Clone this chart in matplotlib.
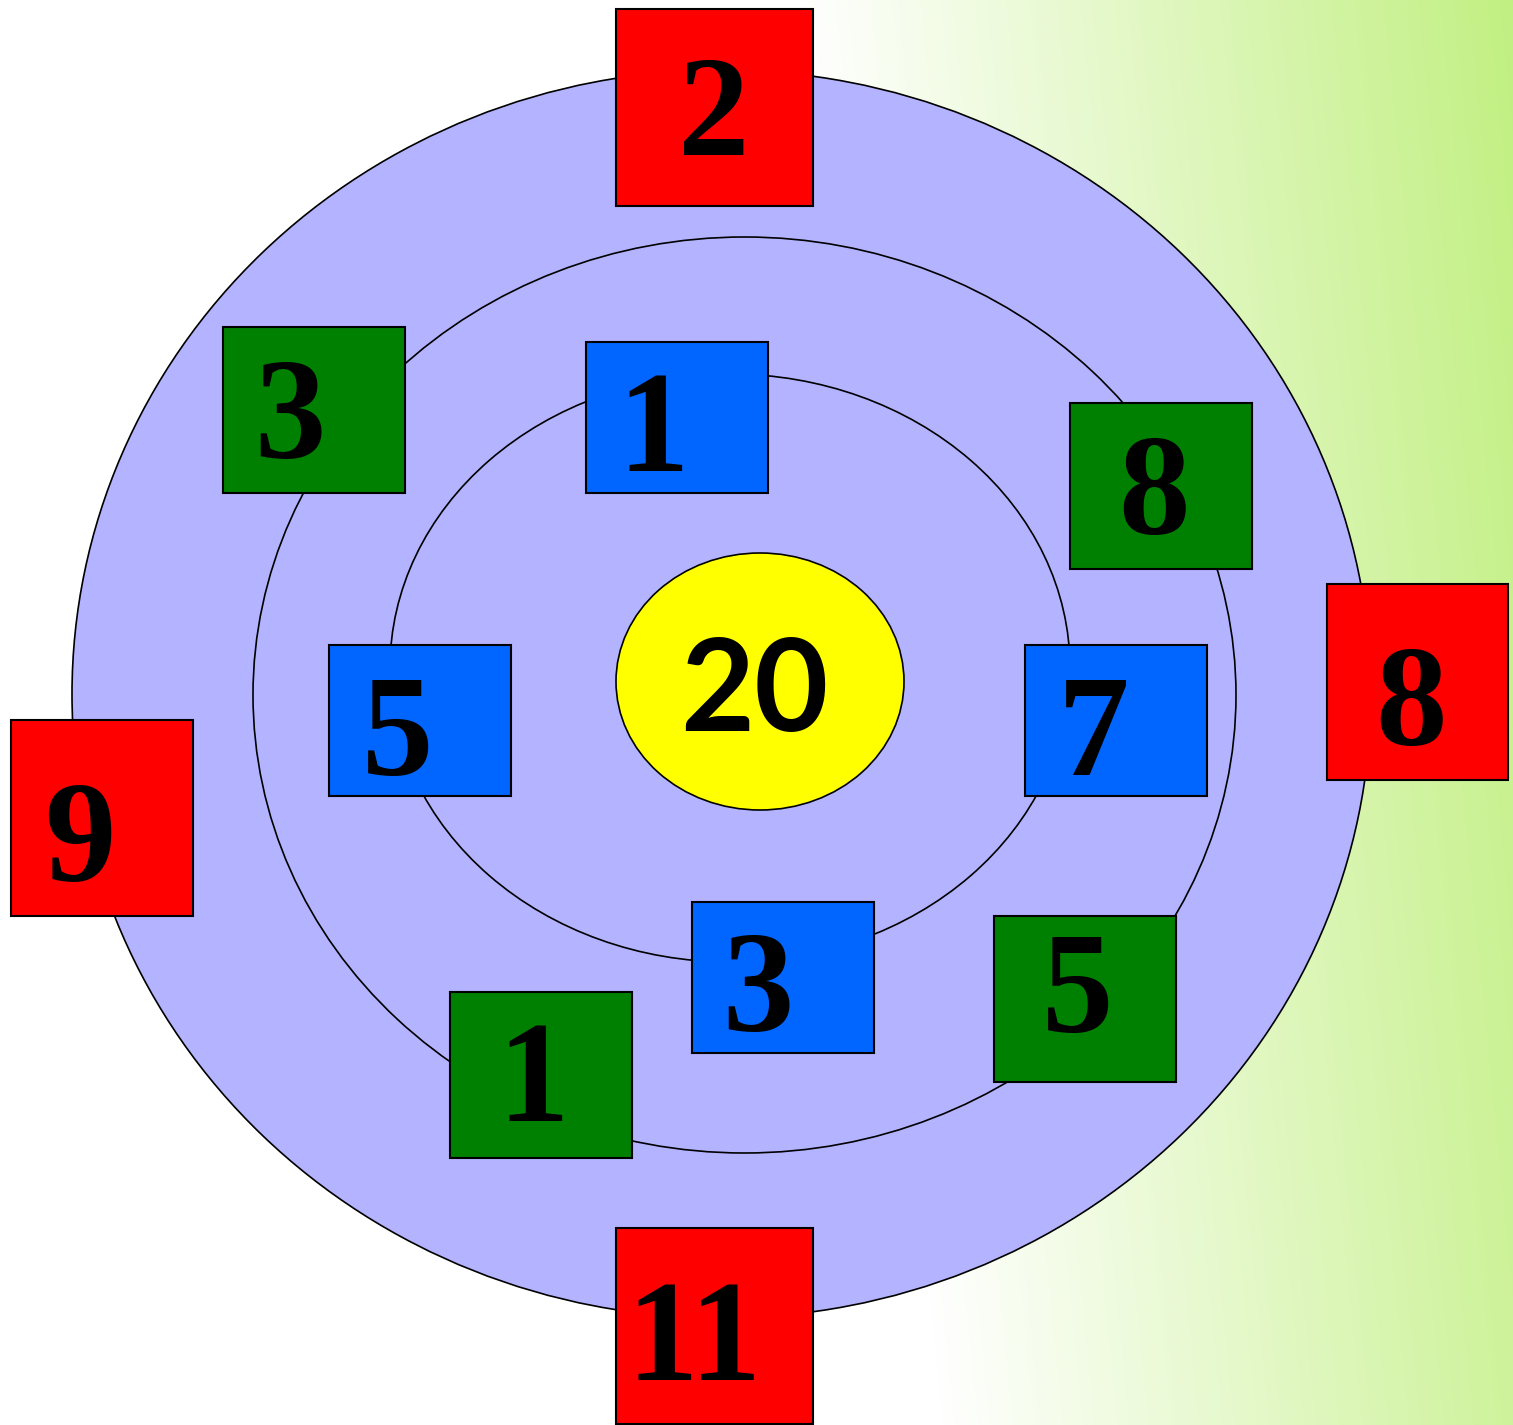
import numpy as np
import matplotlib
matplotlib.use('Agg')
import matplotlib.pyplot as plt
from matplotlib.patches import Ellipse, Rectangle

# numbers shown in the diagram
center_value = 20
outer_values = [2, 8, 11, 9]      # red boxes
middle_values = [3, 8, 5, 1]      # green boxes
inner_values = [1, 7, 3, 5]       # blue boxes

# layout (pixel space, y down)
W, H = 1513, 1425
outer_boxes = [(616, 9, 197, 197), (1327, 584, 181, 196), (616, 1228, 197, 196), (11, 720, 182, 196)]
outer_text = [(714, 155), (1411, 745), (694, 1380), (80, 881)]
middle_boxes = [(223, 327, 182, 166), (1070, 403, 182, 166), (994, 916, 182, 166), (450, 992, 182, 166)]
middle_text = [(290, 458), (1154, 534), (1078, 1032), (533, 1121)]
inner_boxes = [(586, 342, 182, 151), (1025, 645, 182, 151), (692, 902, 182, 151), (329, 645, 182, 151)]
inner_text = [(653, 471), (1094, 775), (758, 1031), (398, 775)]

rings = [((721.5, 694), 1299, 1248), ((744.5, 695), 983, 916), ((730, 668), 680, 588)]

fig = plt.figure(figsize=(W / 100, H / 100), dpi=100)
ax = fig.add_axes([0, 0, 1, 1])
ax.set_xlim(0, W)
ax.set_ylim(H, 0)
ax.axis('off')

# background: white to light green, slightly slanted
xx, yy = np.meshgrid(np.arange(W), np.arange(H))
t = np.clip((xx - 800 - 0.1 * yy) / 713.0, 0, 1)
green = np.array([0.76, 0.94, 0.51])
bg = 1 - t[..., None] * (1 - green)
ax.imshow(bg, extent=(0, W, H, 0), zorder=0, aspect='auto')

for (c, w, h) in rings:
    ax.add_patch(Ellipse(c, w, h, facecolor='#b3b3ff', edgecolor='black', lw=1.2, zorder=1))

ax.add_patch(Ellipse((760, 681.5), 288, 257, facecolor='#ffff00', edgecolor='black', lw=1.2, zorder=2))
ax.text(754, 731, str(center_value), ha='center', va='baseline', fontsize=92,
        fontweight='bold', family='Lato', zorder=3)

def draw_boxes(boxes, texts, values, color):
    for (x, y, w, h), (tx, ty), v in zip(boxes, texts, values):
        ax.add_patch(Rectangle((x, y), w, h, facecolor=color, edgecolor='black', lw=1.5, zorder=4))
        ax.text(tx, ty, str(v), ha='center', va='baseline', fontsize=103,
                fontweight='bold', family='Liberation Serif', zorder=5)

draw_boxes(outer_boxes, outer_text, outer_values, '#ff0000')
draw_boxes(middle_boxes, middle_text, middle_values, '#008000')
draw_boxes(inner_boxes, inner_text, inner_values, '#0066ff')

fig.savefig('out.png', dpi=100)
